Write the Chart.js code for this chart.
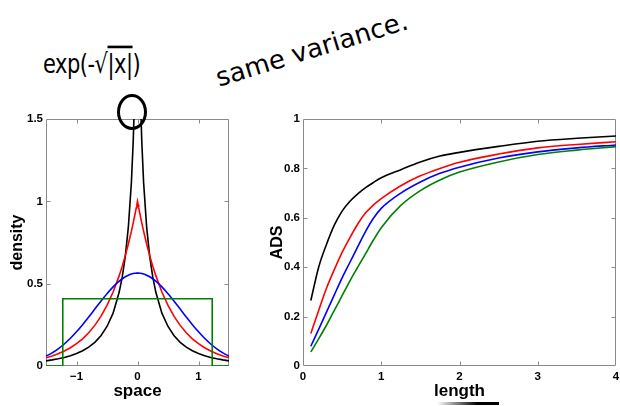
<!DOCTYPE html>
<html>
<head>
<meta charset="utf-8">
<script src="https://cdn.jsdelivr.net/npm/chart.js@4.4.1/dist/chart.umd.min.js"></script>
<style>
  html, body { margin:0; padding:0; background:#fff; }
  #wrap { position:relative; width:620px; height:406px; overflow:hidden; background:#fff; }
  canvas { position:absolute; }
  .hand { position:absolute; font-family:'DejaVu Sans', sans-serif; color:#000; white-space:nowrap; line-height:1; }
</style>
</head>
<body>
<div id="wrap">
  <canvas id="left" width="245" height="306" style="left:0;top:100px;"></canvas>
  <canvas id="right" width="370" height="306" style="left:250px;top:100px;"></canvas>
  <div class="hand" style="left:43px;top:54px;font-size:21px;letter-spacing:-0.5px;transform:scale(1,1.3);transform-origin:0 50%;">exp(-√<span style="text-decoration:overline">|x|</span>)</div>
  <div class="hand" style="left:212px;top:36px;font-size:26px;transform:rotate(-17deg);transform-origin:50% 50%;">same variance.</div>
  <div style="position:absolute;left:117px;top:94px;width:30px;height:36px;box-sizing:border-box;border:3px solid #000;border-radius:50%;"></div>
  <div style="position:absolute;left:437px;top:402px;width:62px;height:3px;background:linear-gradient(to right, rgba(0,0,0,0), #000 65%);"></div>
</div>
<script>
// ---------- Left panel: density vs space ----------
const spaceX = [-1.5,-1.4,-1.3,-1.2,-1.1,-1.0,-0.9,-0.8,-0.7,-0.6,-0.5,-0.4,-0.3,-0.25,-0.2,-0.15,-0.1,-0.07,-0.05,-0.03,-0.02,-0.01,
                0,0.01,0.02,0.03,0.05,0.07,0.1,0.15,0.2,0.25,0.3,0.4,0.5,0.6,0.7,0.8,0.9,1.0,1.1,1.2,1.3,1.4,1.5];
const densitySqrtExp = [0.031,0.037,0.044,0.052,0.062,0.076,0.093,0.115,0.144,0.184,0.240,0.321,0.449,0.541,0.666,0.843,1.115,1.367,1.606,1.958,2.220,2.613,
                3.873,2.613,2.220,1.958,1.606,1.367,1.115,0.843,0.666,0.541,0.449,0.321,0.240,0.184,0.144,0.115,0.093,0.076,0.062,0.052,0.044,0.037,0.031];
const densityLaplace = [0.0498,0.0608,0.0743,0.0907,0.1108,0.1353,0.1653,0.2019,0.2466,0.3012,0.3679,0.4493,0.5488,0.6065,0.6703,0.7408,0.8187,0.8694,0.9048,0.9418,0.9608,0.9802,
                1.0,0.9802,0.9608,0.9418,0.9048,0.8694,0.8187,0.7408,0.6703,0.6065,0.5488,0.4493,0.3679,0.3012,0.2466,0.2019,0.1653,0.1353,0.1108,0.0907,0.0743,0.0608,0.0498];
const densityGauss = [0.0595,0.0795,0.1041,0.1337,0.1682,0.2076,0.2510,0.2975,0.3456,0.3936,0.4394,0.4808,0.5156,0.5300,0.5421,0.5516,0.5586,0.5614,0.5628,0.5637,0.5640,0.5641,
                0.5642,0.5641,0.5640,0.5637,0.5628,0.5614,0.5586,0.5516,0.5421,0.5300,0.5156,0.4808,0.4394,0.3936,0.3456,0.2975,0.2510,0.2076,0.1682,0.1337,0.1041,0.0795,0.0595];
const uniformX = [-1.5,-1.225,-1.225,1.225,1.225,1.5];
const densityUniform = [0,0,0.408,0.408,0,0];
const spaceTicks = [-1,0,1];
const densityTicks = [0,0.5,1,1.5];

// ---------- Right panel: ADS vs length ----------
const lengthX = [0.1,0.2,0.3,0.4,0.5,0.6,0.7,0.8,0.9,1.0,1.25,1.5,1.75,2.0,2.5,3.0,3.5,4.0];
const adsBlack = [0.265,0.400,0.492,0.570,0.627,0.667,0.697,0.722,0.743,0.762,0.795,0.826,0.850,0.865,0.889,0.910,0.922,0.931];
const adsRed   = [0.132,0.225,0.315,0.390,0.460,0.520,0.575,0.620,0.652,0.678,0.730,0.770,0.800,0.825,0.858,0.883,0.897,0.908];
const adsBlue  = [0.080,0.148,0.218,0.288,0.357,0.420,0.483,0.545,0.598,0.638,0.700,0.745,0.780,0.805,0.842,0.867,0.883,0.895];
const adsGreen = [0.057,0.110,0.165,0.225,0.285,0.345,0.400,0.455,0.510,0.560,0.650,0.710,0.753,0.785,0.826,0.856,0.874,0.888];
const lengthTicks = [0,1,2,3,4];
const adsTicks = [0,0.2,0.4,0.6,0.8,1];

const BLACK='#000000', RED='#ff0000', BLUE='#0000ff', GREEN='#008000';
const tickFont = {family:"'Liberation Sans', Arial, sans-serif", size:11.5, weight:'bold'};
const titleFontY = {family:"'Liberation Sans', Arial, sans-serif", size:16, weight:'bold'};
const titleFontX = {family:"'Liberation Sans', Arial, sans-serif", size:17, weight:'bold'};

function pts(xs, ys){ return xs.map((x,i)=>({x:x, y:ys[i]})); }
function fmt(v){ return v < 0 ? '\u2212' + String(-v) : String(v); }

const framePlugin = {
  id:'frame',
  beforeDatasetsDraw(chart){
    const {ctx, chartArea:a, scales} = chart;
    const L = 4;
    ctx.save();
    ctx.strokeStyle = '#8a8a8a';
    ctx.lineWidth = 1;
    const l = Math.round(a.left)+0.5, r = Math.round(a.right)-0.5, t = Math.round(a.top)+0.5, b = Math.round(a.bottom)-0.5;
    ctx.beginPath();
    ctx.rect(l, t, r-l, b-t);
    scales.x.ticks.forEach(tk=>{
      const p = Math.round(scales.x.getPixelForValue(tk.value))+0.5;
      if (p <= l+1 || p >= r-1) return;
      ctx.moveTo(p,b); ctx.lineTo(p,b-L);
      ctx.moveTo(p,t); ctx.lineTo(p,t+L);
    });
    scales.y.ticks.forEach(tk=>{
      const p = Math.round(scales.y.getPixelForValue(tk.value))+0.5;
      if (p <= t+1 || p >= b-1) return;
      ctx.moveTo(l,p); ctx.lineTo(l+L,p);
      ctx.moveTo(r,p); ctx.lineTo(r-L,p);
    });
    ctx.stroke();
    ctx.restore();
  }
};

function makeScales(xMin,xMax,xTicks,xTitle,yMin,yMax,yTicks,yTitle,yWidth,yTitlePad){
  return {
    x: {
      type:'linear', min:xMin, max:xMax,
      grid:{display:false, drawTicks:false}, border:{display:false},
      afterBuildTicks: s => { s.ticks = xTicks.map(v=>({value:v})); },
      afterFit: s => { s.height = 40; s.paddingLeft = 0; s.paddingRight = 0; },
      ticks:{ font:tickFont, color:'#000', padding:4, maxRotation:0, autoSkip:false, callback: v => fmt(v) },
      title:{ display:true, text:xTitle, font:titleFontX, color:'#000', padding:{top:0,bottom:4} }
    },
    y: {
      type:'linear', min:yMin, max:yMax,
      grid:{display:false, drawTicks:false}, border:{display:false},
      afterBuildTicks: s => { s.ticks = yTicks.map(v=>({value:v})); },
      afterFit: s => { s.width = yWidth; s.paddingTop = 0; s.paddingBottom = 0; },
      ticks:{ font:tickFont, color:'#000', padding:3, autoSkip:false, callback: v => fmt(v) },
      title:{ display:true, text:yTitle, font:titleFontY, color:'#000', padding:{top:yTitlePad,bottom:0} }
    }
  };
}

const common = {
  responsive:false, animation:false, devicePixelRatio:1,
  plugins:{ legend:{display:false}, tooltip:{enabled:false} },
  elements:{ point:{radius:0} }
};

new Chart(document.getElementById('left'), {
  type:'line',
  data:{ datasets:[
    { data:pts(uniformX, densityUniform), borderColor:GREEN, borderWidth:1.6, tension:0, fill:false },
    { data:pts(spaceX, densityGauss), borderColor:BLUE, borderWidth:1.6, cubicInterpolationMode:'monotone', fill:false },
    { data:pts(spaceX, densityLaplace), borderColor:RED, borderWidth:1.6, tension:0, fill:false },
    { data:pts(spaceX, densitySqrtExp), borderColor:BLACK, borderWidth:1.6, tension:0, fill:false }
  ]},
  options: Object.assign({}, common, {
    layout:{ padding:{left:0, right:16, top:19, bottom:0} },
    scales: makeScales(-1.5,1.5,spaceTicks,'space',0,1.5,densityTicks,'density',46,8)
  }),
  plugins:[framePlugin]
});

new Chart(document.getElementById('right'), {
  type:'line',
  data:{ datasets:[
    { data:pts(lengthX, adsGreen), borderColor:GREEN, borderWidth:1.6, cubicInterpolationMode:'monotone', fill:false },
    { data:pts(lengthX, adsBlue), borderColor:BLUE, borderWidth:1.6, cubicInterpolationMode:'monotone', fill:false },
    { data:pts(lengthX, adsRed), borderColor:RED, borderWidth:1.6, cubicInterpolationMode:'monotone', fill:false },
    { data:pts(lengthX, adsBlack), borderColor:BLACK, borderWidth:1.6, cubicInterpolationMode:'monotone', fill:false }
  ]},
  options: Object.assign({}, common, {
    layout:{ padding:{left:0, right:4, top:19, bottom:0} },
    scales: makeScales(0,4,lengthTicks,'length',0,1,adsTicks,'ADS',53,18)
  }),
  plugins:[framePlugin]
});
</script>
</body>
</html>
